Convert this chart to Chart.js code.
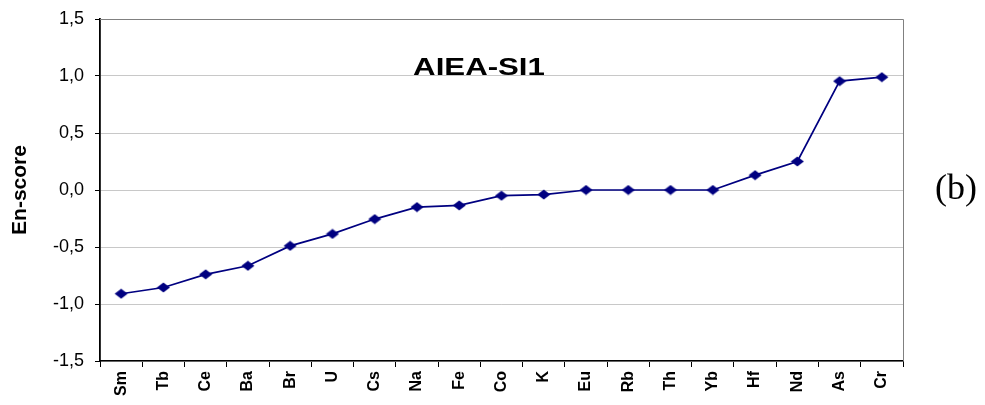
<!DOCTYPE html>
<html>
<head>
<meta charset="utf-8">
<script src="https://cdn.jsdelivr.net/npm/chart.js@4"></script>
<style>
  html, body { margin: 0; padding: 0; background: #fff; }
  #wrap { position: relative; width: 985px; height: 405px; }
  #b { position: absolute; left: 935px; top: 167px; font-family: "Liberation Serif", "Times New Roman", serif; font-size: 36px; color: #000; line-height: 40px; }
</style>
</head>
<body>
<div id="wrap">
  <canvas id="c" width="985" height="405"></canvas>
  <div id="b">(b)</div>
</div>
<script>
const elements = ["Sm","Tb","Ce","Ba","Br","U","Cs","Na","Fe","Co","K","Eu","Rb","Th","Yb","Hf","Nd","As","Cr"];
const enScores = [-0.91,-0.855,-0.74,-0.665,-0.49,-0.385,-0.255,-0.15,-0.135,-0.05,-0.04,0.0,0.0,0.0,0.0,0.13,0.25,0.955,0.99];
const yTicks = [-1.5,-1.0,-0.5,0.0,0.5,1.0,1.5];
const chartTitle = "AIEA-SI1";
const yTitle = "En-score";

// wide diamond marker
const marker = document.createElement('canvas');
marker.width = 14; marker.height = 11;
(function () {
  const m = marker.getContext('2d');
  m.fillStyle = '#000080';
  m.beginPath();
  m.moveTo(7, 0.5); m.lineTo(13.5, 5.5); m.lineTo(7, 10.5); m.lineTo(0.5, 5.5);
  m.closePath(); m.fill();
})();

const frame = {
  id: 'frame',
  afterDraw(chart) {
    const {ctx, chartArea: a} = chart;
    ctx.save();
    ctx.strokeStyle = '#808080';
    ctx.lineWidth = 1;
    ctx.beginPath();
    ctx.moveTo(a.left, a.top + 0.5);
    ctx.lineTo(a.right + 0.5, a.top + 0.5);
    ctx.lineTo(a.right + 0.5, a.bottom);
    ctx.stroke();
    ctx.fillStyle = '#000';
    ctx.font = 'bold 24px "Liberation Sans", Arial, sans-serif';
    ctx.textAlign = 'center';
    ctx.textBaseline = 'alphabetic';
    ctx.translate(a.left + 379, a.top + 56);
    ctx.scale(1.3, 1);
    ctx.fillText(chartTitle, 0, 0);
    ctx.restore();
  }
};

new Chart(document.getElementById('c'), {
  type: 'line',
  data: {
    labels: elements,
    datasets: [{
      data: enScores,
      borderColor: '#000080',
      backgroundColor: '#000080',
      borderWidth: 1.7,
      pointStyle: marker,
      pointRadius: 5,
      pointHoverRadius: 5,
      tension: 0
    }]
  },
  options: {
    responsive: false,
    animation: false,
    layout: { padding: { top: 19, right: 82, bottom: 2, left: 0 } },
    plugins: { legend: { display: false }, tooltip: { enabled: false } },
    scales: {
      x: {
        type: 'category',
        offset: true,
        grid: { offset: true, drawOnChartArea: false, drawTicks: true, tickLength: 6, tickColor: '#000' },
        border: { color: '#000', width: 1.5 },
        ticks: {
          minRotation: 90, maxRotation: 90, autoSkip: false, padding: 4,
          color: '#000',
          font: { family: '"Liberation Sans", Arial, sans-serif', size: 16, weight: 'bold' }
        },
        afterFit(s) { s.height = 42; s.paddingLeft = 0; s.paddingRight = 0; }
      },
      y: {
        min: -1.5, max: 1.5,
        afterBuildTicks(s) { s.ticks = yTicks.map(v => ({ value: v })); },
        grid: {
          color: ctx => (ctx.tick && ctx.tick.value === 1.5) ? '#808080' : '#c8c8c8',
          lineWidth: 1, drawTicks: true, tickLength: 5, tickColor: '#000'
        },
        border: { color: '#000', width: 1.8 },
        ticks: {
          color: '#000', padding: 11,
          font: { family: '"Liberation Sans", Arial, sans-serif', size: 18 },
          callback: v => Number(v).toFixed(1).replace('.', ',')
        },
        title: {
          display: true, text: yTitle, color: '#000', padding: { top: 8, bottom: 0 },
          font: { family: '"Liberation Sans", Arial, sans-serif', size: 21, weight: 'bold' }
        },
        afterFit(s) { s.width = 100; s.paddingTop = 0; s.paddingBottom = 0; }
      }
    }
  },
  plugins: [frame]
});
</script>
</body>
</html>
